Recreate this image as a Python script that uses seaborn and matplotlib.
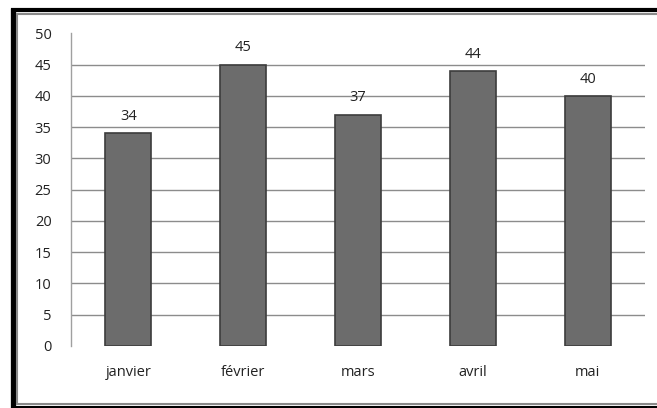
import numpy as np
import pandas as pd
import seaborn as sns
import matplotlib.pyplot as plt
from matplotlib.lines import Line2D

# Données
mois = ['janvier', 'février', 'mars', 'avril', 'mai']
valeurs = [34, 45, 37, 44, 40]
graduations = [0, 5, 10, 15, 20, 25, 30, 35, 40, 45, 50]

df = pd.DataFrame({'mois': mois, 'valeur': valeurs})

sns.set_style('white')
plt.rcParams['font.family'] = ['Open Sans', 'DejaVu Sans']

W, H = 657, 408
fig = plt.figure(figsize=(W / 100, H / 100), dpi=100)
ax = fig.add_axes([0.108, 0.152, 0.874, 0.766])

sns.barplot(data=df, x='mois', y='valeur', color='#6c6c6c', width=0.4,
            edgecolor='#3c3c3c', linewidth=1.2, saturation=1, ax=ax)

# Étiquettes de données
for i, v in enumerate(valeurs):
    ax.text(i, v + 1.5, str(v), ha='center', va='bottom', fontsize=10.5, color='#222222')

ax.set_ylim(0, 50)
ax.set_xlim(-0.5, len(mois) - 0.5)
ax.set_yticks(graduations)
ax.set_xlabel('')
ax.set_ylabel('')

# Quadrillage horizontal (sauf en haut)
for g in graduations[1:-1]:
    ax.axhline(g, color='#8c8c8c', linewidth=1, zorder=0)

for s in ['top', 'right', 'bottom']:
    ax.spines[s].set_visible(False)
ax.spines['left'].set_color('#a0a0a0')
ax.spines['left'].set_linewidth(1)

ax.tick_params(axis='y', length=6, width=1, color='#8c8c8c', labelsize=10.5, pad=8, labelcolor='#222222')
ax.tick_params(axis='x', length=0, labelsize=10.5, pad=14, labelcolor='#222222')
ax.set_xticks(np.arange(0.5, len(mois) - 0.5 + 0.01, 1), minor=True)
ax.tick_params(axis='x', which='minor', length=4, width=1, color='#a0a0a0', direction='out')

# Cadre (coupé à droite comme sur la capture)
def trait(x, y, couleur, lw):
    fig.add_artist(Line2D([v / W for v in x], [1 - v / H for v in y],
                          transform=fig.transFigure, color=couleur, linewidth=lw,
                          solid_capstyle='butt'))

trait([13, 13], [8, 408], 'black', 3.8)
trait([10.5, W], [10, 10], 'black', 3.0)
trait([10.5, W], [406.5, 406.5], 'black', 1.5)
trait([16.5, 16.5], [13, 405], '#8a8a8a', 1.5)
trait([16, W], [14, 14], '#8a8a8a', 1.5)
trait([16, W], [404, 404], '#8a8a8a', 1.5)

fig.savefig('out.png', dpi=100, facecolor='white')
